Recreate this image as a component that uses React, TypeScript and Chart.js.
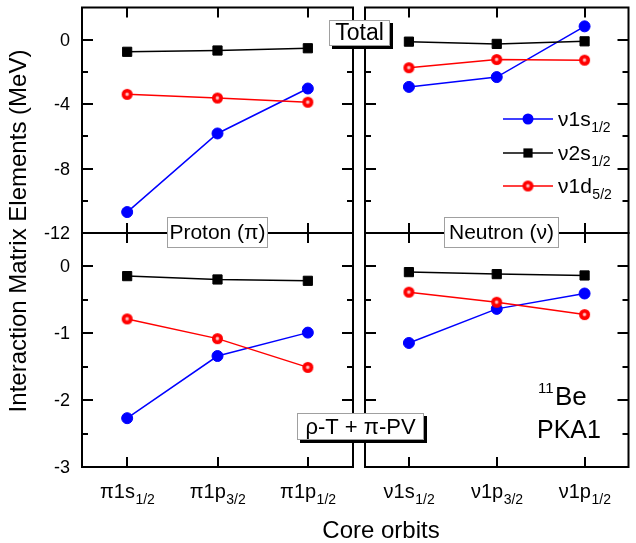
import React, { useEffect, useRef } from 'react';
import { Chart, registerables } from 'chart.js';
Chart.register(...registerables);

const FONT = '"Liberation Sans", Arial, Helvetica, sans-serif';

// ---- categories (core orbits) ----
const protonOrbits = ['π1s', 'π1p', 'π1p'];
const neutronOrbits = ['ν1s', 'ν1p', 'ν1p'];
const orbitSubs = ['1/2', '3/2', '1/2'];

// ---- series (valence orbits) ----
const seriesNames = ['ν1s', 'ν2s', 'ν1d'];
const seriesSubs = ['1/2', '1/2', '5/2'];
const seriesColors = ['#0000ff', '#000000', '#ff0000'];

// ---- Total, proton core ----
const protonTotal1s = [-10.7, -5.82, -3.03];
const protonTotal2s = [-0.75, -0.67, -0.53];
const protonTotal1d = [-3.39, -3.62, -3.88];
// ---- Total, neutron core ----
const neutronTotal1s = [-2.93, -2.32, 0.83];
const neutronTotal2s = [-0.12, -0.26, -0.1];
const neutronTotal1d = [-1.74, -1.23, -1.27];
// ---- rho-T + pi-PV, proton core ----
const protonRhoPi1s = [-2.27, -1.34, -0.99];
const protonRhoPi2s = [-0.145, -0.195, -0.215];
const protonRhoPi1d = [-0.785, -1.08, -1.51];
// ---- rho-T + pi-PV, neutron core ----
const neutronRhoPi1s = [-1.145, -0.635, -0.405];
const neutronRhoPi2s = [-0.085, -0.115, -0.135];
const neutronRhoPi1d = [-0.385, -0.535, -0.72];

// ---- axes ----
const totalRange = [-12, 2];
const totalTicks = [0, -4, -8, -12];
const totalMinor = [-2, -6, -10];
const rhoRange = [-3, 0.5];
const rhoTicks = [0, -1, -2, -3];
const rhoMinor = [-0.5, -1.5, -2.5];

const yTitle = 'Interaction Matrix Elements (MeV)';
const xTitle = 'Core orbits';

const CW = 636;
const CH = 543;

type Panel = {
  rect: number[];
  range: number[];
  major: number[];
  minor: number[];
  yLabels: boolean;
  xLabels: boolean;
  cats: string[];
  data: number[][];
};

const panels: Panel[] = [
  { rect: [82, 3, 353, 233], range: totalRange, major: totalTicks, minor: totalMinor, yLabels: true, xLabels: false, cats: protonOrbits, data: [protonTotal1s, protonTotal2s, protonTotal1d] },
  { rect: [365, 3, 639, 233], range: totalRange, major: totalTicks, minor: totalMinor, yLabels: false, xLabels: false, cats: neutronOrbits, data: [neutronTotal1s, neutronTotal2s, neutronTotal1d] },
  { rect: [82, 233, 353, 467], range: rhoRange, major: rhoTicks, minor: rhoMinor, yLabels: true, xLabels: true, cats: protonOrbits, data: [protonRhoPi1s, protonRhoPi2s, protonRhoPi1d] },
  { rect: [365, 233, 639, 467], range: rhoRange, major: rhoTicks, minor: rhoMinor, yLabels: false, xLabels: true, cats: neutronOrbits, data: [neutronRhoPi1s, neutronRhoPi2s, neutronRhoPi1d] },
];

function makeSphere(r: number, color: string) {
  const s = Math.ceil(2 * r + 2);
  const c = document.createElement('canvas');
  c.width = s;
  c.height = s;
  const g = c.getContext('2d')!;
  const cx = s / 2, cy = s / 2;
  g.beginPath();
  g.arc(cx, cy, r, 0, Math.PI * 2);
  g.fillStyle = color;
  g.fill();
  const rr = r * 0.5;
  const grad = g.createRadialGradient(cx - 0.3, cy - 0.3, 0, cx, cy, rr);
  grad.addColorStop(0, '#ffe8e8');
  grad.addColorStop(0.5, '#ff9a9a');
  grad.addColorStop(1, 'rgba(255,0,0,0)');
  g.fillStyle = grad;
  g.beginPath();
  g.arc(cx, cy, rr, 0, Math.PI * 2);
  g.fill();
  return c;
}

function subText(ctx: CanvasRenderingContext2D, main: string, sub: string, x: number, y: number, mainSize: number, subSize: number, subDrop: number, align: 'left' | 'center') {
  ctx.font = `${mainSize}px ${FONT}`;
  const w1 = ctx.measureText(main).width;
  ctx.font = `${subSize}px ${FONT}`;
  const w2 = ctx.measureText(sub).width;
  const x0 = align === 'center' ? x - (w1 + w2) / 2 : x;
  ctx.textAlign = 'left';
  ctx.textBaseline = 'alphabetic';
  ctx.font = `${mainSize}px ${FONT}`;
  ctx.fillText(main, x0, y);
  ctx.font = `${subSize}px ${FONT}`;
  ctx.fillText(sub, x0 + w1 + 0.5, y + subDrop);
}

function textBox(ctx: CanvasRenderingContext2D, x1: number, y1: number, x2: number, y2: number, text: string, size: number, shadow: boolean) {
  const w = x2 - x1, h = y2 - y1;
  if (shadow) {
    ctx.fillStyle = '#000';
    ctx.fillRect(x1 + 3, y1 + 3, w, h);
  }
  ctx.fillStyle = '#fff';
  ctx.fillRect(x1, y1, w, h);
  ctx.strokeStyle = '#a0a0a0';
  ctx.lineWidth = 1;
  ctx.strokeRect(x1 + 0.5, y1 + 0.5, w - 1, h - 1);
  ctx.fillStyle = '#000';
  ctx.font = `${size}px ${FONT}`;
  ctx.textAlign = 'center';
  ctx.textBaseline = 'middle';
  ctx.fillText(text, (x1 + x2) / 2, (y1 + y2) / 2 + 1);
}

function panelPlugin(p: Panel, overlay: boolean, sphere: HTMLCanvasElement) {
  return {
    id: 'panelFrame',
    beforeDatasetsDraw(chart: any) {
      const { ctx, chartArea: a, scales } = chart;
      const x = scales.x, y = scales.y;
      ctx.save();
      ctx.strokeStyle = '#000';
      ctx.lineWidth = 2;
      ctx.strokeRect(a.left, a.top, a.right - a.left, a.bottom - a.top);
      ctx.beginPath();
      const hTick = (v: number, len: number) => {
        const py = Math.round(y.getPixelForValue(v));
        if (py <= a.top + 1 || py >= a.bottom - 1) return;
        ctx.moveTo(a.left, py); ctx.lineTo(a.left + len, py);
        ctx.moveTo(a.right, py); ctx.lineTo(a.right - len, py);
      };
      p.major.forEach((v) => hTick(v, 11));
      p.minor.forEach((v) => hTick(v, 6));
      p.cats.forEach((_, i) => {
        const px = Math.round(x.getPixelForTick(i));
        ctx.moveTo(px, a.top); ctx.lineTo(px, a.top + 10);
        ctx.moveTo(px, a.bottom); ctx.lineTo(px, a.bottom - 10);
      });
      ctx.stroke();
      ctx.fillStyle = '#000';
      if (p.yLabels) {
        ctx.font = `18px ${FONT}`;
        ctx.textAlign = 'right';
        ctx.textBaseline = 'middle';
        p.major.forEach((v) => {
          ctx.fillText(String(v), a.left - 12, y.getPixelForValue(v) + 1);
        });
      }
      if (p.xLabels) {
        p.cats.forEach((c, i) => {
          subText(ctx, c, orbitSubs[i], x.getPixelForTick(i), 498, 20, 14, 6, 'center');
        });
      }
      ctx.restore();
    },
    afterDraw(chart: any) {
      if (!overlay) return;
      const ctx: CanvasRenderingContext2D = chart.ctx;
      ctx.save();
      // axis titles
      ctx.fillStyle = '#000';
      ctx.font = `24px ${FONT}`;
      ctx.textAlign = 'center';
      ctx.textBaseline = 'alphabetic';
      ctx.save();
      ctx.translate(26, 231);
      ctx.rotate(-Math.PI / 2);
      ctx.fillText(yTitle, 0, 0);
      ctx.restore();
      ctx.fillText(xTitle, 381, 538);
      // text boxes
      textBox(ctx, 329, 20, 390, 46, 'Total', 23, true);
      textBox(ctx, 167, 217, 268, 248, 'Proton (π)', 21, false);
      textBox(ctx, 444, 217, 559, 248, 'Neutron (ν)', 21, false);
      textBox(ctx, 297, 413, 424, 440, 'ρ-T + π-PV', 22, true);
      // nucleus label
      ctx.fillStyle = '#000';
      ctx.textAlign = 'left';
      ctx.textBaseline = 'alphabetic';
      ctx.font = `15px ${FONT}`;
      ctx.fillText('11', 538, 393);
      ctx.font = `26px ${FONT}`;
      ctx.fillText('Be', 555, 405);
      ctx.font = `25px ${FONT}`;
      ctx.fillText('PKA1', 537, 438);
      // legend
      const rows = [119, 153, 186];
      seriesNames.forEach((name, k) => {
        const ry = rows[k];
        ctx.strokeStyle = seriesColors[k];
        ctx.lineWidth = 1.5;
        ctx.beginPath();
        ctx.moveTo(503, ry); ctx.lineTo(553, ry);
        ctx.stroke();
        ctx.fillStyle = seriesColors[k];
        if (k === 0) {
          ctx.beginPath(); ctx.arc(528, ry, 5.5, 0, Math.PI * 2); ctx.fill();
        } else if (k === 1) {
          ctx.fillRect(528 - 4.6, ry - 4.6, 9.2, 9.2);
        } else {
          ctx.drawImage(sphere, 528 - sphere.width / 2, ry - sphere.height / 2);
        }
        ctx.fillStyle = '#000';
        subText(ctx, name, seriesSubs[k], 558, ry + 7, 21, 14, 6, 'left');
      });
      ctx.restore();
    },
  };
}

export default function App() {
  const canvases = useRef<(HTMLCanvasElement | null)[]>([]);
  useEffect(() => {
    const sphere = makeSphere(5.5, '#ff0000');
    const charts = panels.map((p, idx) => {
      const [l, t, r, b] = p.rect;
      const datasets = p.data.map((d, k) => ({
        label: seriesNames[k] + seriesSubs[k],
        data: d,
        borderColor: seriesColors[k],
        backgroundColor: seriesColors[k],
        borderWidth: 1.5,
        pointStyle: (k === 0 ? 'circle' : k === 1 ? 'rect' : sphere) as any,
        pointRadius: k === 1 ? 6.5 : 5.5,
        pointBorderWidth: 1,
        pointBorderColor: seriesColors[k],
        pointBackgroundColor: seriesColors[k],
        tension: 0,
        order: 2 - k,
        clip: false as any,
      }));
      return new Chart(canvases.current[idx]!, {
        type: 'line',
        data: { labels: p.cats.map((c, i) => c + orbitSubs[i]), datasets },
        options: {
          responsive: false,
          animation: false,
          devicePixelRatio: 1,
          events: [],
          layout: { padding: { left: l, top: t, right: CW - r, bottom: CH - b } },
          scales: {
            x: { type: 'category', offset: true, display: false },
            y: { type: 'linear', min: p.range[0], max: p.range[1], display: false },
          },
          plugins: { legend: { display: false }, tooltip: { enabled: false }, title: { display: false } },
        },
        plugins: [panelPlugin(p, idx === panels.length - 1, sphere)],
      });
    });
    return () => charts.forEach((c) => c.destroy());
  }, []);
  return (
    <div style={{ position: 'fixed', left: 0, top: 0, width: 636, height: 543, overflow: 'hidden', background: '#fff' }}>
      {panels.map((_, i) => (
        <canvas
          key={i}
          ref={(el) => { canvases.current[i] = el; }}
          width={CW}
          height={CH}
          style={{ position: 'absolute', left: 0, top: 0, width: CW, height: CH }}
        />
      ))}
    </div>
  );
}
